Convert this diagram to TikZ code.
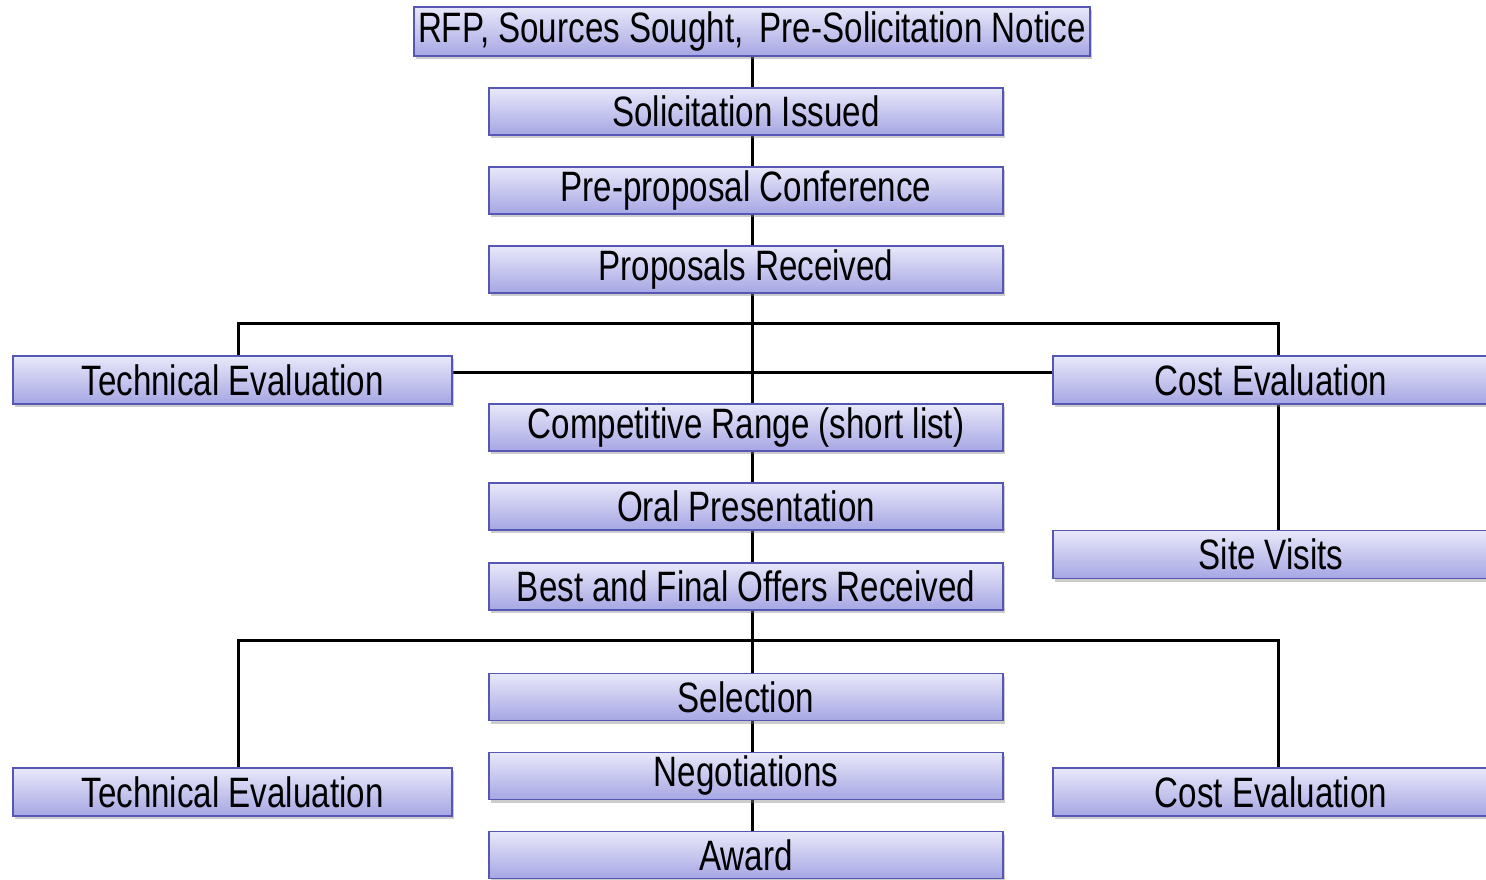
\documentclass[tikz,border=0pt]{standalone}
\usepackage{fontspec}
\newfontfamily\stagefont[FakeStretch=0.78]{Liberation Sans}
\usetikzlibrary{shadows,backgrounds}

\definecolor{stagetop}{HTML}{E8E8FA}
\definecolor{stagebot}{HTML}{A6A6E4}
\definecolor{stageline}{HTML}{5656B4}

\tikzset{
  stage/.style={draw=stageline, line width=1.3pt, top color=stagetop,
    bottom color=stagebot, minimum width=514pt, minimum height=47pt,
    inner sep=0pt, font=\stagefont\fontsize{42.5}{46}\selectfont,
    drop shadow={shadow xshift=2pt, shadow yshift=-3pt, opacity=0.4}},
  side/.style={stage, minimum width=436pt, minimum height=48pt},
  link/.style={line width=3pt}
}

\begin{document}
\begin{tikzpicture}[x=1pt, y=-1pt]
		\useasboundingbox (0,0) rectangle (1486,880);
		\clip (0,0) rectangle (1486,880);

		\node [stage, minimum width=676pt, minimum height=49pt] (rfp) at (752, 31.5) {RFP, Sources Sought,\, Pre-Solicitation Notice};
		\node [stage] (issued) at (746, 111.5) {Solicitation Issued};
		\node [stage] (conf) at (746, 190.5) {Pre-proposal Conference};
		\node [stage] (received) at (746, 269.5) {Proposals Received};
		\node [side, minimum width=439pt] (tech1) at (232.5, 380) {Technical Evaluation};
		\node [side] (cost1) at (1271, 380) {Cost Evaluation};
		\node [stage] (range) at (746, 427.5) {Competitive Range (short list)};
		\node [stage] (oral) at (746, 506.5) {Oral Presentation};
		\node [side] (visits) at (1271, 554.5) {Site Visits};
		\node [stage] (bafo) at (746, 586.5) {Best and Final Offers Received};
		\node [stage] (select) at (746, 697) {Selection};
		\node [side, minimum width=439pt] (tech2) at (232.5, 792) {Technical Evaluation};
		\node [side] (cost2) at (1271, 792) {Cost Evaluation};
		\node [stage] (nego) at (746, 776) {Negotiations};
		\node [stage] (award) at (746, 855) {Award};

		\coordinate (split1) at (752, 323);
		\coordinate (split2) at (752, 640);

		\begin{scope}[on background layer]
		\draw [link] (rfp.south) to (award.north -| rfp.south);
		\draw [link] ([xshift=5.5pt]tech1.north) |- (split1) -| ([xshift=7pt]cost1.north);
		\draw [link] ([yshift=8pt]tech1.east) to ([yshift=8pt]cost1.west);
		\draw [link] ([xshift=7pt]cost1.south) to ([xshift=7pt]visits.north);
		\draw [link] ([xshift=5.5pt]tech2.north) |- (split2) -| ([xshift=7pt]cost2.north);
		\end{scope}
\end{tikzpicture}
\end{document}
